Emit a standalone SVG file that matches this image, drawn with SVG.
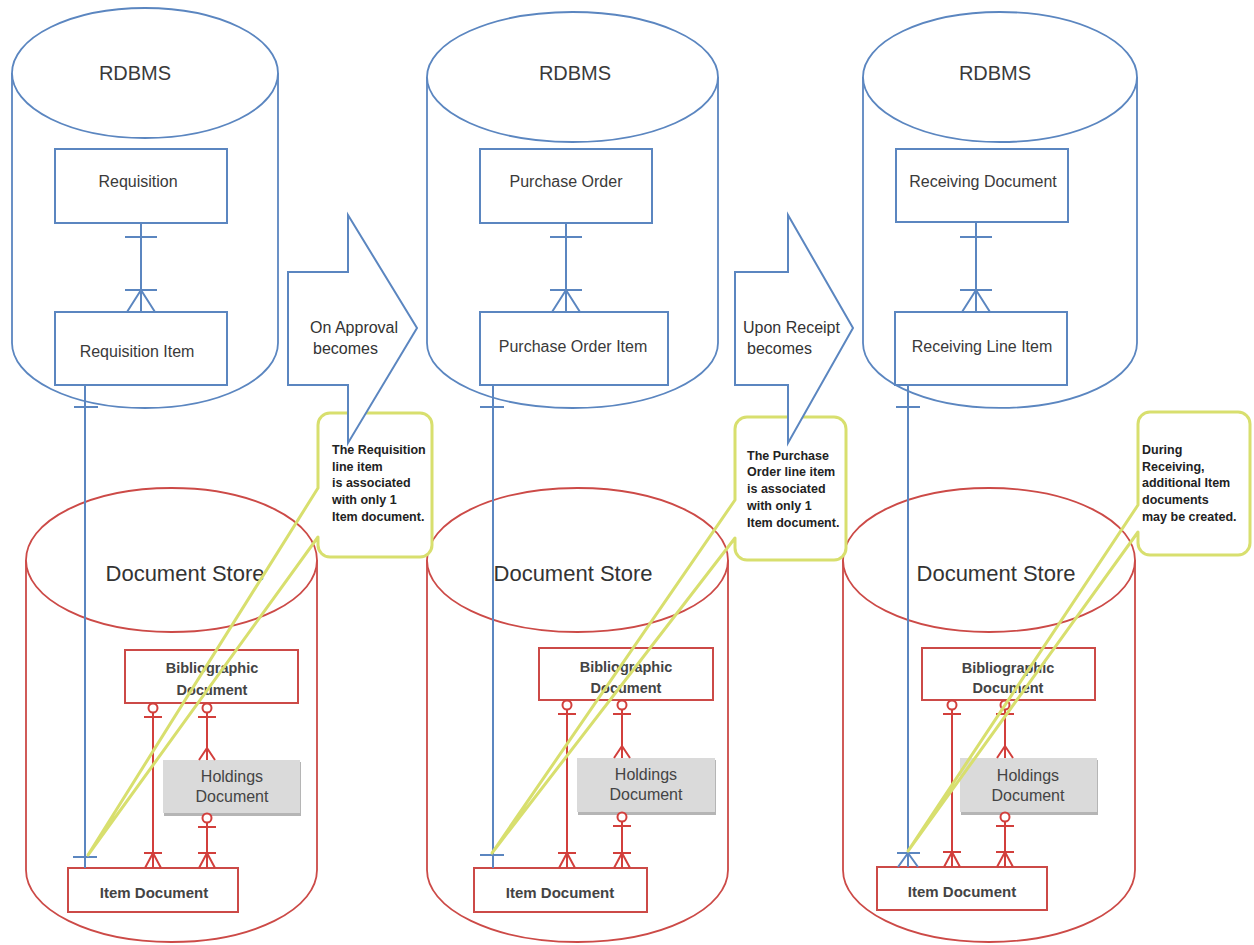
<svg xmlns="http://www.w3.org/2000/svg" xmlns:xlink="http://www.w3.org/1999/xlink" width="1254" height="945" viewBox="0 0 1254 945">
<style>
  text { font-family: "Liberation Sans", Arial, sans-serif; fill: #3a3a3a; }
  .cyl-b { fill: #fff; stroke: #5b86c0; stroke-width: 1.8; }
  .cyl-r { fill: #fff; stroke: #cc4a47; stroke-width: 1.8; }
  .box-b { fill: #fff; stroke: #5b86c0; stroke-width: 2; }
  .box-r { fill: #fff; stroke: #cc4a47; stroke-width: 2; }
  .box-g { fill: #dadada; stroke: none; }
  .shadow { fill: #b5b5b5; }
  .con-b { fill: none; stroke: #5b86c0; stroke-width: 2; }
  .con-r { fill: none; stroke: #d23f3c; stroke-width: 2; }
  .arrow { fill: #fff; stroke: #5b86c0; stroke-width: 2; stroke-linejoin: miter; }
  .call-bg { fill: #fff; stroke: none; }
  .call { fill: none; stroke: #d8df6e; stroke-width: 3; stroke-linejoin: round; }
  .t-rdbms { font-size: 20px; text-anchor: middle; }
  .t-box { font-size: 16px; text-anchor: middle; }
  .t-ds { font-size: 22px; text-anchor: middle; fill: #333; }
  .t-bib { font-size: 14.5px; font-weight: bold; text-anchor: middle; fill: #444; }
  .t-hold { font-size: 16px; text-anchor: middle; fill: #444; }
  .t-item { font-size: 15px; font-weight: bold; text-anchor: middle; fill: #444; }
  .t-arrow { font-size: 16px; fill: #333; }
  .t-call { font-size: 12.5px; font-weight: bold; fill: #222; }
</style>
<defs>
  <g id="zo"><circle cx="0" cy="5" r="4.5" fill="#fff"/><line x1="-9" y1="14" x2="9" y2="14"/></g>
  <g id="crowR"><line x1="-9" y1="-15" x2="9" y2="-15"/><path d="M0,-15 L-8,0 M0,-15 L8,0"/></g>
  <g id="crowOnly"><path d="M0,-12 L-8,0 M0,-12 L8,0"/></g>
  <g id="oneB"><line x1="-16" y1="0" x2="16" y2="0"/></g>
  <g id="crowB"><line x1="-16" y1="-22" x2="16" y2="-22"/><path d="M0,-22 L-14,0 M0,-22 L14,0"/></g>
  <g id="barS"><line x1="-12" y1="0" x2="12" y2="0"/></g>
</defs>

<!-- RDBMS cylinders -->
<g id="rdbms-1">
  <path class="cyl-b" d="M12,73 V343 A133,65 0 0 0 278,343 V73"/>
  <ellipse class="cyl-b" cx="145" cy="73" rx="133" ry="65"/>
  <text class="t-rdbms" x="135" y="80">RDBMS</text>
</g>
<g id="rdbms-2">
  <path class="cyl-b" d="M427,77 V343 A145.5,65 0 0 0 718,343 V77"/>
  <ellipse class="cyl-b" cx="572.5" cy="77" rx="145.5" ry="65"/>
  <text class="t-rdbms" x="575" y="80">RDBMS</text>
</g>
<g id="rdbms-3">
  <path class="cyl-b" d="M863,77 V343 A137,65 0 0 0 1137,343 V77"/>
  <ellipse class="cyl-b" cx="1000" cy="77" rx="137" ry="65"/>
  <text class="t-rdbms" x="995" y="80">RDBMS</text>
</g>

<!-- Document Store cylinders -->
<g id="docstore-1">
  <path class="cyl-r" d="M26,560 V870 A145.5,72 0 0 0 317,870 V560"/>
  <ellipse class="cyl-r" cx="171.5" cy="560" rx="145.5" ry="72"/>
  <text class="t-ds" x="185" y="581">Document Store</text>
</g>
<g id="docstore-2">
  <path class="cyl-r" d="M427,560 V870 A150.5,72 0 0 0 728,870 V560"/>
  <ellipse class="cyl-r" cx="577.5" cy="560" rx="150.5" ry="72"/>
  <text class="t-ds" x="573" y="581">Document Store</text>
</g>
<g id="docstore-3">
  <path class="cyl-r" d="M843,560 V870 A146,72 0 0 0 1135,870 V560"/>
  <ellipse class="cyl-r" cx="989" cy="560" rx="146" ry="72"/>
  <text class="t-ds" x="996" y="581">Document Store</text>
</g>

<!-- Entity boxes -->
<g id="requisition"><rect class="box-b" x="55" y="149" width="172" height="74"/><text class="t-box" x="138" y="187">Requisition</text></g>
<g id="requisition-item"><rect class="box-b" x="55" y="312" width="172" height="73"/><text class="t-box" x="137" y="357">Requisition Item</text></g>
<g id="purchase-order"><rect class="box-b" x="480" y="149" width="172" height="74"/><text class="t-box" x="566" y="187">Purchase Order</text></g>
<g id="purchase-order-item"><rect class="box-b" x="480" y="312" width="188" height="73"/><text class="t-box" x="573" y="352">Purchase Order Item</text></g>
<g id="receiving-document"><rect class="box-b" x="896" y="149" width="172" height="73"/><text class="t-box" x="983" y="187">Receiving Document</text></g>
<g id="receiving-line-item"><rect class="box-b" x="895" y="312" width="172" height="73"/><text class="t-box" x="982" y="352">Receiving Line Item</text></g>

<g id="bib-1"><rect class="box-r" x="125" y="650" width="173" height="53"/><text class="t-bib" x="212" y="673">Bibliographic</text><text class="t-bib" x="212" y="695">Document</text></g>
<g id="holdings-1"><rect class="shadow" x="164" y="762" width="137" height="54"/><rect class="box-g" x="163" y="760" width="137" height="53"/><text class="t-hold" x="232" y="782">Holdings</text><text class="t-hold" x="232" y="802">Document</text></g>
<g id="item-1"><rect class="box-r" x="68" y="868" width="170" height="44"/><text class="t-item" x="154" y="898">Item Document</text></g>

<g id="bib-2"><rect class="box-r" x="539" y="648" width="174" height="52"/><text class="t-bib" x="626" y="672">Bibliographic</text><text class="t-bib" x="626" y="693">Document</text></g>
<g id="holdings-2"><rect class="shadow" x="578" y="760" width="138" height="55"/><rect class="box-g" x="577" y="758" width="138" height="54"/><text class="t-hold" x="646" y="780">Holdings</text><text class="t-hold" x="646" y="800">Document</text></g>
<g id="item-2"><rect class="box-r" x="474" y="868" width="173" height="44"/><text class="t-item" x="560" y="898">Item Document</text></g>

<g id="bib-3"><rect class="box-r" x="922" y="648" width="173" height="52"/><text class="t-bib" x="1008" y="673">Bibliographic</text><text class="t-bib" x="1008" y="693">Document</text></g>
<g id="holdings-3"><rect class="shadow" x="961" y="760" width="137" height="55"/><rect class="box-g" x="960" y="758" width="137" height="54"/><text class="t-hold" x="1028" y="781">Holdings</text><text class="t-hold" x="1028" y="801">Document</text></g>
<g id="item-3"><rect class="box-r" x="877" y="867" width="170" height="43"/><text class="t-item" x="962" y="897">Item Document</text></g>

<!-- Connectors -->
<g id="connectors">
  <!-- RDBMS header to item -->
  <g class="con-b">
    <line x1="141" y1="223" x2="141" y2="312"/><use xlink:href="#oneB" x="141" y="237"/><use xlink:href="#crowB" x="141" y="312"/>
    <line x1="566" y1="223" x2="566" y2="312"/><use xlink:href="#oneB" x="566" y="237"/><use xlink:href="#crowB" x="566" y="312"/>
    <line x1="976" y1="222" x2="976" y2="312"/><use xlink:href="#oneB" x="976" y="237"/><use xlink:href="#crowB" x="976" y="312"/>
  </g>
  <!-- RDBMS item to Item Document -->
  <g class="con-b">
    <line x1="85" y1="385" x2="85" y2="868"/><use xlink:href="#barS" x="86" y="407"/><use xlink:href="#barS" x="85" y="857"/>
    <line x1="493" y1="385" x2="493" y2="868"/><use xlink:href="#barS" x="492" y="407"/><use xlink:href="#barS" x="492" y="855"/>
    <line x1="908" y1="385" x2="908" y2="867"/><use xlink:href="#barS" x="908" y="407"/>
    <line x1="897" y1="853" x2="920" y2="853"/><path d="M908,853 L898,867 M908,853 L918,867"/>
  </g>
  <!-- Document store relations -->
  <g class="con-r">
    <line x1="153" y1="703" x2="153" y2="868"/><use xlink:href="#zo" x="153" y="703"/><use xlink:href="#crowR" x="153" y="868"/>
    <line x1="207" y1="703" x2="207" y2="760"/><use xlink:href="#zo" x="207" y="703"/><use xlink:href="#crowOnly" x="207" y="760"/>
    <line x1="207" y1="813" x2="207" y2="868"/><use xlink:href="#zo" x="207" y="813"/><use xlink:href="#crowR" x="207" y="868"/>

    <line x1="567" y1="700" x2="567" y2="868"/><use xlink:href="#zo" x="567" y="700"/><use xlink:href="#crowR" x="567" y="868"/>
    <line x1="622" y1="700" x2="622" y2="758"/><use xlink:href="#zo" x="622" y="700"/><use xlink:href="#crowOnly" x="622" y="758"/>
    <line x1="622" y1="812" x2="622" y2="868"/><use xlink:href="#zo" x="622" y="812"/><use xlink:href="#crowR" x="622" y="868"/>

    <line x1="952" y1="700" x2="952" y2="867"/><use xlink:href="#zo" x="952" y="700"/><use xlink:href="#crowR" x="952" y="867"/>
    <line x1="1005" y1="700" x2="1005" y2="758"/><use xlink:href="#zo" x="1005" y="700"/><use xlink:href="#crowOnly" x="1005" y="758"/>
    <line x1="1005" y1="812" x2="1005" y2="867"/><use xlink:href="#zo" x="1005" y="812"/><use xlink:href="#crowR" x="1005" y="867"/>
  </g>
</g>

<!-- Callouts -->
<g id="callout-1">
  <rect class="call-bg" x="318" y="413" width="114" height="144" rx="12"/>
  <path class="call" d="M330,413 H420 A12,12 0 0 1 432,425 V545 A12,12 0 0 1 420,557 H330 A12,12 0 0 1 318,545 V537 L88,855 L318,488 V425 A12,12 0 0 1 330,413 Z"/>
  <text class="t-call" x="332" y="454">The Requisition</text>
  <text class="t-call" x="332" y="471">line item</text>
  <text class="t-call" x="332" y="487">is associated</text>
  <text class="t-call" x="332" y="504">with only 1</text>
  <text class="t-call" x="332" y="521">Item document.</text>
</g>
<g id="callout-2">
  <rect class="call-bg" x="735" y="417" width="111" height="143" rx="12"/>
  <path class="call" d="M747,417 H834 A12,12 0 0 1 846,429 V548 A12,12 0 0 1 834,560 H747 A12,12 0 0 1 735,548 V538 L492,853 L735,500 V429 A12,12 0 0 1 747,417 Z"/>
  <text class="t-call" x="747" y="460">The Purchase</text>
  <text class="t-call" x="747" y="476">Order line item</text>
  <text class="t-call" x="747" y="493">is associated</text>
  <text class="t-call" x="747" y="510">with only 1</text>
  <text class="t-call" x="747" y="527">Item document.</text>
</g>
<g id="callout-3">
  <rect class="call-bg" x="1138" y="412" width="112" height="143" rx="12"/>
  <path class="call" d="M1150,412 H1238 A12,12 0 0 1 1250,424 V543 A12,12 0 0 1 1238,555 H1150 A12,12 0 0 1 1138,543 V532 L908,851 L1138,505 V424 A12,12 0 0 1 1150,412 Z"/>
  <text class="t-call" x="1142" y="454">During</text>
  <text class="t-call" x="1142" y="471">Receiving,</text>
  <text class="t-call" x="1142" y="487">additional Item</text>
  <text class="t-call" x="1142" y="504">documents</text>
  <text class="t-call" x="1142" y="521">may be created.</text>
</g>

<!-- Block arrows -->
<g id="arrow-1">
  <polygon class="arrow" points="288,272 348,272 348,215 417,328 348,443 348,385 288,385"/>
  <text class="t-arrow" x="310" y="333">On Approval</text>
  <text class="t-arrow" x="313" y="354">becomes</text>
</g>
<g id="arrow-2">
  <polygon class="arrow" points="735,272 788,272 788,215 853,328 788,443 788,385 735,385"/>
  <text class="t-arrow" x="743" y="333">Upon Receipt</text>
  <text class="t-arrow" x="747" y="354">becomes</text>
</g>
</svg>
